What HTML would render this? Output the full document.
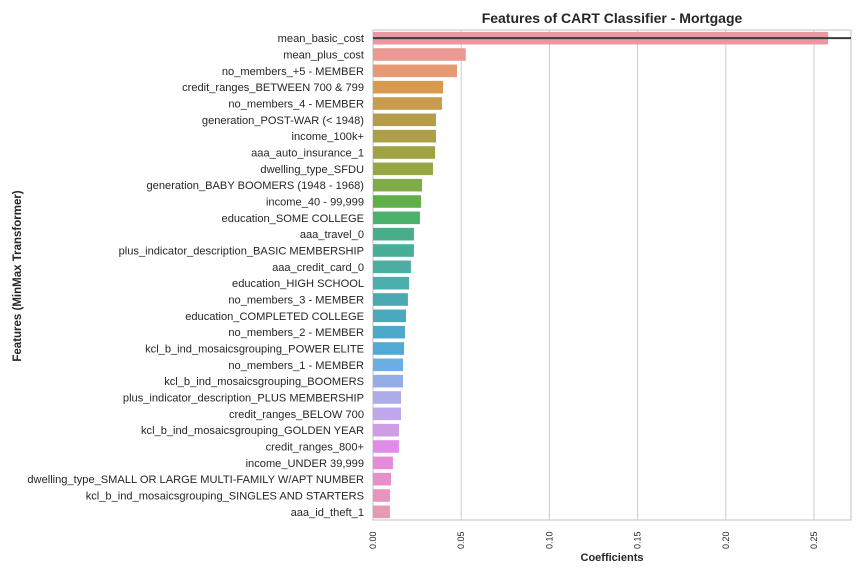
<!DOCTYPE html>
<html><head><meta charset="utf-8"><style>
body{margin:0;background:#fff;width:864px;height:576px;overflow:hidden;font-family:"Liberation Sans",sans-serif}
</style></head><body>
<svg id="chart" width="864" height="576" xmlns="http://www.w3.org/2000/svg" font-family="Liberation Sans, sans-serif">
<text x="612" y="23" text-anchor="middle" font-size="14" font-weight="bold" fill="#262626">Features of CART Classifier - Mortgage</text>
<text x="612" y="561" text-anchor="middle" font-size="11" font-weight="bold" fill="#262626">Coefficients</text>
<text transform="translate(21,276) rotate(-90)" text-anchor="middle" font-size="11.5" font-weight="bold" fill="#262626">Features (MinMax Transformer)</text>
<g id="grid"></g><g id="bars"></g><g id="ylabels"></g><g id="xlabels"></g>
</svg>
<script>
const features=["mean_basic_cost","mean_plus_cost","no_members_+5 - MEMBER","credit_ranges_BETWEEN 700 & 799","no_members_4 - MEMBER","generation_POST-WAR (< 1948)","income_100k+","aaa_auto_insurance_1","dwelling_type_SFDU","generation_BABY BOOMERS (1948 - 1968)","income_40 - 99,999","education_SOME COLLEGE","aaa_travel_0","plus_indicator_description_BASIC MEMBERSHIP","aaa_credit_card_0","education_HIGH SCHOOL","no_members_3 - MEMBER","education_COMPLETED COLLEGE","no_members_2 - MEMBER","kcl_b_ind_mosaicsgrouping_POWER ELITE","no_members_1 - MEMBER","kcl_b_ind_mosaicsgrouping_BOOMERS","plus_indicator_description_PLUS MEMBERSHIP","credit_ranges_BELOW 700","kcl_b_ind_mosaicsgrouping_GOLDEN YEAR","credit_ranges_800+","income_UNDER 39,999","dwelling_type_SMALL OR LARGE MULTI-FAMILY W/APT NUMBER","kcl_b_ind_mosaicsgrouping_SINGLES AND STARTERS","aaa_id_theft_1"];
const coefs=[0.258,0.0526,0.0476,0.0397,0.0391,0.0357,0.0357,0.0352,0.034,0.0278,0.0272,0.0266,0.0232,0.0232,0.0215,0.0204,0.0198,0.0187,0.0181,0.0176,0.017,0.017,0.0159,0.0159,0.0147,0.0147,0.0113,0.0102,0.0096,0.0096];
const xticks=[0,0.05,0.1,0.15,0.2,0.25];
const xtickLabels=["0.00","0.05","0.10","0.15","0.20","0.25"];
const palette=["#ea96a3","#ea9a92","#e69a74","#d9994f","#c89b4e","#b59c4b","#ac9f48","#a0a245","#97a745","#80ab48","#60b04a","#4cb26b","#48ae8a","#48ae97","#4aafa2","#4aafac","#4aa9b2","#4aa9bc","#4ca8c7","#52aad4","#6aaee3","#95ade7","#adace9","#bea7ec","#cf9de5","#e08de9","#e68bd8","#e88fc9","#e894bd","#e899b1"];
const L=373,R=851,T=30,B=520,XMAX=(R-L)/1764;
const X=v=>L+(v/XMAX)*(R-L);
const step=(B-T)/features.length;
const Y=i=>T+step*(i+0.5);
const NS="http://www.w3.org/2000/svg";
function mk(t,a,p){const e=document.createElementNS(NS,t);for(const k in a)e.setAttribute(k,a[k]);p.appendChild(e);return e;}
const g=document.getElementById('grid'),b=document.getElementById('bars'),yl=document.getElementById('ylabels'),xl=document.getElementById('xlabels');
xticks.forEach((v,i)=>{
 const ln=mk('line',{x1:X(v),x2:X(v),y1:T,y2:B,stroke:'#cccccc','stroke-width':1},g);
 
 
 const t=mk('text',{transform:`translate(${X(v)+3},${B+29}) rotate(-90)`,'font-size':9,fill:'#262626'},xl);
 t.textContent=xtickLabels[i];
 
 
});
const fr=mk('rect',{x:L,y:T,width:R-L,height:B-T,fill:'none',stroke:'#cccccc','stroke-width':1.2},g);


features.forEach((f,i)=>{
 const r=mk('rect',{x:L,y:Y(i)-6.3,width:X(coefs[i])-L,height:12.6,fill:palette[i%palette.length]},b);
 
 
 const t=mk('text',{x:L-9,y:Y(i)+4,'text-anchor':'end','font-size':11.1,fill:'#262626'},yl);
 t.textContent=f;
 
 
});
const el=mk('line',{x1:L,x2:R,y1:Y(0),y2:Y(0),stroke:'#3a3a3a','stroke-width':2},b);


</script>
</body></html>
